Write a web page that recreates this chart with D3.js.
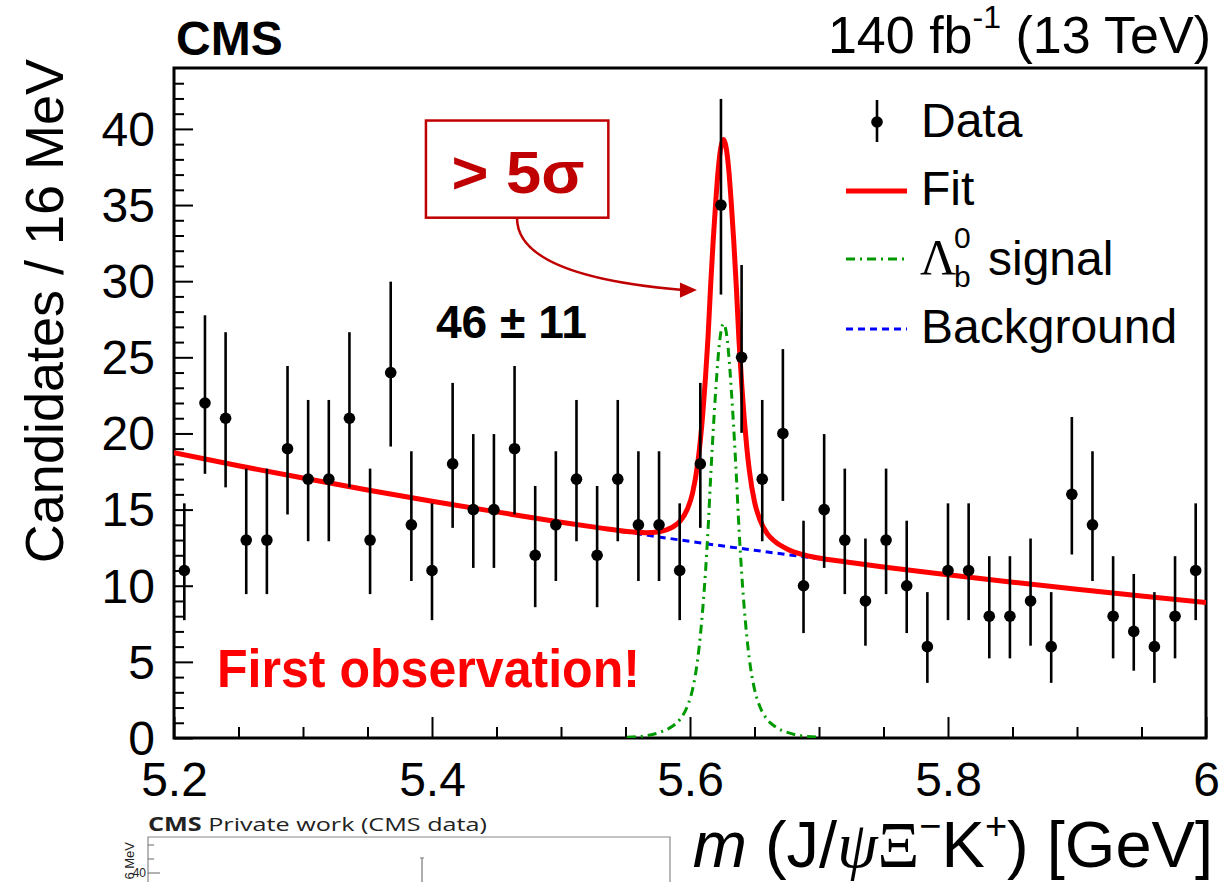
<!DOCTYPE html>
<html>
<head>
<meta charset="utf-8">
<script src="https://cdn.jsdelivr.net/npm/d3@7"></script>
<style>
  body { margin: 0; background: #fff; }
  svg { display: block; }
  text { font-family: "Liberation Sans", Arial, Helvetica, sans-serif; }
</style>
</head>
<body>
<div id="chart"></div>
<script>
// 16 MeV bins, centres in GeV
const binCenters = [5.208, 5.224, 5.240, 5.256, 5.272, 5.288, 5.304, 5.320, 5.336, 5.352,
  5.368, 5.384, 5.400, 5.416, 5.432, 5.448, 5.464, 5.480, 5.496, 5.512,
  5.528, 5.544, 5.560, 5.576, 5.592, 5.608, 5.624, 5.640, 5.656, 5.672,
  5.688, 5.704, 5.720, 5.736, 5.752, 5.768, 5.784, 5.800, 5.816, 5.832,
  5.848, 5.864, 5.880, 5.896, 5.912, 5.928, 5.944, 5.960, 5.976, 5.992];
const counts = [11, 22, 21, 13, 13, 19, 17, 17, 21, 13,
  24, 14, 11, 18, 15, 15, 19, 12, 14, 17,
  12, 17, 14, 14, 11, 18, 35, 25, 17, 20,
  10, 15, 13, 9, 13, 10, 6, 11, 11, 8,
  8, 9, 6, 16, 14, 8, 7, 6, 8, 11];
// asymmetric (Poisson) error bars
const errLow = [3.26, 4.65, 4.54, 3.55, 3.55, 4.32, 4.08, 4.08, 4.54, 3.55,
  4.86, 3.69, 3.26, 4.20, 3.83, 3.83, 4.32, 3.41, 3.69, 4.08,
  3.41, 4.08, 3.69, 3.69, 3.26, 4.20, 5.88, 4.96, 4.08, 4.43,
  3.11, 3.83, 3.55, 2.94, 3.55, 3.11, 2.38, 3.26, 3.26, 2.77,
  2.77, 2.94, 2.38, 3.95, 3.69, 2.77, 2.58, 2.38, 2.77, 3.26];
const errHigh = [4.41, 5.76, 5.65, 4.69, 4.69, 5.43, 5.20, 5.20, 5.65, 4.69,
  5.97, 4.83, 4.41, 5.32, 4.96, 4.96, 5.43, 4.55, 4.83, 5.20,
  4.55, 5.20, 4.83, 4.83, 4.41, 5.32, 6.97, 6.06, 5.20, 5.54,
  4.27, 4.96, 4.69, 4.10, 4.69, 4.27, 3.58, 4.41, 4.41, 3.94,
  3.94, 4.10, 3.58, 5.08, 4.83, 3.94, 3.77, 3.58, 3.94, 4.41];

// background component
const bkgX = [5.20, 5.25, 5.30, 5.35, 5.40, 5.45, 5.50, 5.55, 5.60, 5.65, 5.70, 5.75, 5.80, 5.85, 5.90, 5.95, 6.00];
const bkgY = [18.73, 17.88, 17.07, 16.29, 15.55, 14.85, 14.17, 13.53, 12.91, 12.33, 11.77, 11.23, 10.72, 10.23, 9.77, 9.33, 8.90];

// Lambda_b signal component
const sigX = [5.551, 5.566, 5.576, 5.586, 5.592, 5.598, 5.602, 5.606, 5.608, 5.610, 5.612, 5.614,
  5.616, 5.618, 5.620, 5.622, 5.624, 5.626, 5.628, 5.630, 5.632, 5.634, 5.636, 5.638,
  5.640, 5.642, 5.644, 5.646, 5.650, 5.654, 5.660, 5.666, 5.676, 5.686, 5.701];
const sigY = [0.05, 0.15, 0.35, 0.75, 1.2, 2.1, 3.2, 5.2, 6.7, 8.6, 10.9, 13.7,
  17.1, 20.2, 22.9, 25.2, 26.7, 27.2, 26.7, 25.2, 22.9, 20.2, 17.1, 13.7,
  10.9, 8.6, 6.7, 5.2, 3.2, 2.1, 1.2, 0.75, 0.35, 0.15, 0.05];

// total fit
const fitX = [5.20, 5.25, 5.30, 5.35, 5.40, 5.45, 5.50, 5.53,
  5.551, 5.566, 5.576, 5.586, 5.592, 5.598, 5.602, 5.606, 5.608, 5.610, 5.612, 5.614,
  5.616, 5.618, 5.620, 5.622, 5.624, 5.626, 5.628, 5.630, 5.632, 5.634, 5.636, 5.638,
  5.640, 5.642, 5.644, 5.646, 5.650, 5.654, 5.660, 5.666, 5.676, 5.686, 5.701,
  5.72, 5.75, 5.80, 5.85, 5.90, 5.95, 6.00];
const fitY = [18.73, 17.88, 17.07, 16.29, 15.55, 14.85, 14.17, 13.80,
  13.56, 13.48, 13.55, 13.83, 14.21, 15.04, 16.09, 18.04, 19.52, 21.39, 23.67, 26.35,
  29.72, 32.70, 35.27, 37.45, 38.83, 39.30, 38.78, 37.36, 35.13, 32.51, 29.48, 26.06,
  23.34, 21.01, 19.09, 17.57, 15.52, 14.37, 13.40, 12.89, 12.38, 12.07, 11.80,
  11.57, 11.23, 10.72, 10.23, 9.77, 9.33, 8.90];

const xMajor = [5.2, 5.4, 5.6, 5.8, 6.0];
const xTickLabels = ["5.2", "5.4", "5.6", "5.8", "6"];
const yMajor = [0, 5, 10, 15, 20, 25, 30, 35, 40];
const yTickLabels = ["0", "5", "10", "15", "20", "25", "30", "35", "40"];

const legendItems = ["Data", "Fit", "signal", "Background"];

/* ========== SETUP ========== */

const svg = d3.select("#chart").append("svg").attr("width", 1222).attr("height", 882);
const plot = { left: 174, top: 68, right: 1206, bottom: 738 };

const x = d3.scaleLinear().domain([5.2, 6.0]).range([plot.left, plot.right]);
const y = d3.scaleLinear().domain([0, 44]).range([plot.bottom, plot.top]);

svg.append("defs").append("clipPath").attr("id", "frame")
  .append("rect")
  .attr("x", plot.left).attr("y", plot.top)
  .attr("width", plot.right - plot.left).attr("height", plot.bottom - plot.top);

/* ========== AXES ========== */

const xMinor = d3.range(5.2, 6.0001, 0.05).filter((v) => !xMajor.some((m) => Math.abs(m - v) < 1e-6));
const yMinor = d3.range(0, 44, 1).filter((v) => v % 5 !== 0);

const gx = svg.append("g").attr("transform", `translate(0,${plot.bottom})`);
gx.call(d3.axisBottom(x).tickValues(xMajor).tickSize(-21).tickPadding(24)
  .tickFormat((d, i) => xTickLabels[i]));
gx.append("g").call(d3.axisBottom(x).tickValues(xMinor).tickSize(-11).tickFormat(""));

const gy = svg.append("g").attr("transform", `translate(${plot.left},0)`);
gy.call(d3.axisLeft(y).tickValues(yMajor).tickSize(-19).tickPadding(19)
  .tickFormat((d, i) => yTickLabels[i]));
gy.append("g").call(d3.axisLeft(y).tickValues(yMinor).tickSize(-10).tickFormat(""));

svg.selectAll(".domain").remove();
svg.selectAll(".tick line").attr("stroke", "#000").attr("stroke-width", 2);
svg.selectAll(".tick text")
  .attr("font-size", 48)
  .attr("fill", "#000")
  .style("font-family", '"Liberation Sans", Arial, sans-serif');
gy.selectAll(".tick text").attr("dy", "0.34em");

svg.append("rect")
  .attr("x", plot.left).attr("y", plot.top)
  .attr("width", plot.right - plot.left).attr("height", plot.bottom - plot.top)
  .attr("fill", "none").attr("stroke", "#000").attr("stroke-width", 3);

/* ========== CURVES ========== */

const curves = svg.append("g").attr("clip-path", "url(#frame)");
const line = d3.line().x((d) => x(d[0])).y((d) => y(d[1])).curve(d3.curveMonotoneX);

curves.append("path")
  .attr("d", line(d3.zip(bkgX, bkgY)))
  .attr("fill", "none").attr("stroke", "#0000ff").attr("stroke-width", 3)
  .attr("stroke-dasharray", "7,5");

curves.append("path")
  .attr("d", line(d3.zip(sigX, sigY)))
  .attr("fill", "none").attr("stroke", "#009a00").attr("stroke-width", 3)
  .attr("stroke-dasharray", "9,5,2,5");

curves.append("path")
  .attr("d", line(d3.zip(fitX, fitY)))
  .attr("fill", "none").attr("stroke", "#ff0000").attr("stroke-width", 5)
  .attr("stroke-linejoin", "round");

/* ========== DATA POINTS ========== */

const pts = binCenters.map((c, i) => ({ c, n: counts[i], lo: errLow[i], hi: errHigh[i] }));
const gd = svg.append("g");
gd.selectAll("line")
  .data(pts)
  .enter()
  .append("line")
  .attr("x1", (d) => x(d.c)).attr("x2", (d) => x(d.c))
  .attr("y1", (d) => y(d.n - d.lo)).attr("y2", (d) => y(d.n + d.hi))
  .attr("stroke", "#000").attr("stroke-width", 2.6);
gd.selectAll("circle")
  .data(pts)
  .enter()
  .append("circle")
  .attr("cx", (d) => x(d.c)).attr("cy", (d) => y(d.n))
  .attr("r", 5.8).attr("fill", "#000");

/* ========== LEGEND ========== */

const lg = svg.append("g");
lg.append("line").attr("x1", 877).attr("x2", 877).attr("y1", 100).attr("y2", 142)
  .attr("stroke", "#000").attr("stroke-width", 2.6);
lg.append("circle").attr("cx", 877).attr("cy", 122).attr("r", 5.8).attr("fill", "#000");
lg.append("line").attr("x1", 846).attr("x2", 907).attr("y1", 191).attr("y2", 191)
  .attr("stroke", "#ff0000").attr("stroke-width", 5);
lg.append("line").attr("x1", 846).attr("x2", 907).attr("y1", 259).attr("y2", 259)
  .attr("stroke", "#009a00").attr("stroke-width", 3).attr("stroke-dasharray", "9,5,2,5");
lg.append("line").attr("x1", 846).attr("x2", 907).attr("y1", 329).attr("y2", 329)
  .attr("stroke", "#0000ff").attr("stroke-width", 3).attr("stroke-dasharray", "7,5");

lg.append("text").attr("x", 921).attr("y", 137).attr("font-size", 48).text(legendItems[0]);
lg.append("text").attr("x", 921).attr("y", 205).attr("font-size", 48).text(legendItems[1]);
lg.append("text").attr("x", 920).attr("y", 274).attr("font-size", 50)
  .style("font-family", '"Liberation Serif", "DejaVu Serif", serif').text("Λ");
lg.append("text").attr("x", 954).attr("y", 248).attr("font-size", 30).text("0");
lg.append("text").attr("x", 954).attr("y", 287).attr("font-size", 30).text("b");
lg.append("text").attr("x", 988).attr("y", 275).attr("font-size", 48).text(legendItems[2]);
lg.append("text").attr("x", 921).attr("y", 343).attr("font-size", 48).text(legendItems[3]);

/* ========== TITLES ========== */

svg.append("text").attr("x", 176).attr("y", 55).attr("font-size", 48)
  .attr("font-weight", "bold").text("CMS");

const lumi = svg.append("text").attr("x", 1211).attr("y", 53).attr("font-size", 52)
  .attr("text-anchor", "end");
lumi.append("tspan").text("140 fb");
lumi.append("tspan").attr("dy", -25).attr("font-size", 32).text("-1");
lumi.append("tspan").attr("dy", 25).text(" (13 TeV)");

svg.append("text")
  .attr("transform", "translate(63,311) rotate(-90)")
  .attr("text-anchor", "middle").attr("font-size", 54)
  .text("Candidates / 16 MeV");

const xt = svg.append("text").attr("x", 1213).attr("y", 867).attr("font-size", 65)
  .attr("text-anchor", "end");
xt.append("tspan").attr("font-style", "italic").text("m");
xt.append("tspan").text(" (J/");
xt.append("tspan").attr("font-style", "italic")
  .style("font-family", '"Liberation Serif", "DejaVu Serif", serif').text("ψ");
xt.append("tspan").style("font-family", '"Liberation Serif", "DejaVu Serif", serif').text("Ξ");
xt.append("tspan").attr("dy", -28).attr("font-size", 38).text("−");
xt.append("tspan").attr("dy", 28).text("K");
xt.append("tspan").attr("dy", -28).attr("font-size", 38).text("+");
xt.append("tspan").attr("dy", 28).text(") [GeV]");

/* ========== ANNOTATIONS (data units) ========== */

const DARK = "#c00000";
const ann = svg.append("g").style("font-family", '"Open Sans", Lato, sans-serif').attr("font-weight", "bold");

ann.append("rect")
  .attr("x", x(5.3953)).attr("y", y(40.55))
  .attr("width", x(5.5367) - x(5.3953)).attr("height", y(34.17) - y(40.55))
  .attr("fill", "#fff").attr("stroke", DARK).attr("stroke-width", 2.5);
ann.append("text")
  .attr("x", x(5.4667)).attr("y", y(35.8)).attr("text-anchor", "middle")
  .attr("font-size", 60).attr("fill", DARK)
  .attr("textLength", 133).attr("lengthAdjust", "spacingAndGlyphs")
  .text("> 5σ");

const arrowPath = d3.path();
arrowPath.moveTo(x(5.4659), y(34.15));
arrowPath.bezierCurveTo(x(5.4659), y(31.06), x(5.5302), y(29.88), x(5.5946), y(29.42));
ann.append("path").attr("d", arrowPath.toString())
  .attr("fill", "none").attr("stroke", DARK).attr("stroke-width", 2.5);
ann.append("path")
  .attr("d", `M${x(5.6054)},${y(29.42)} L${x(5.5922)},${y(29.92)} L${x(5.5922)},${y(28.92)} Z`)
  .attr("fill", DARK);

ann.append("text")
  .attr("x", x(5.4616)).attr("y", y(26.27)).attr("text-anchor", "middle")
  .attr("font-size", 46).attr("fill", "#000")
  .attr("textLength", 151).attr("lengthAdjust", "spacingAndGlyphs")
  .text("46 ± 11");

ann.append("text")
  .attr("x", x(5.2333)).attr("y", y(3.35))
  .attr("font-size", 53).attr("fill", "#ff0000")
  .attr("textLength", 423).attr("lengthAdjust", "spacingAndGlyphs")
  .text("First observation!");

/* ========== CROPPED INSET BELOW (other figure) ========== */

svg.append("defs").append("clipPath").attr("id", "inset")
  .append("rect").attr("x", 0).attr("y", 808).attr("width", 680).attr("height", 74);
const inset = svg.append("g").attr("clip-path", "url(#inset)");
inset.append("path").attr("d", "M148,882 V837 H670 V882")
  .attr("fill", "none").attr("stroke", "#888").attr("stroke-width", 1.2);
inset.append("text").attr("x", 148).attr("y", 831).attr("font-size", 19).attr("fill", "#222")
  .style("font-family", '"Open Sans", Lato, sans-serif')
  .attr("textLength", 339).attr("lengthAdjust", "spacingAndGlyphs")
  .call((t) => {
    t.append("tspan").attr("font-weight", "bold").text("CMS");
    t.append("tspan").text(" Private work (CMS data)");
  });
inset.append("text").attr("transform", "translate(134,842) rotate(-90)")
  .attr("text-anchor", "end").attr("font-size", 13).attr("fill", "#222")
  .text("6 MeV");
inset.append("text").attr("x", 146).attr("y", 877).attr("text-anchor", "end")
  .attr("font-size", 12).attr("fill", "#222").text("40");
[[845, 6], [859, 6], [873, 12]].forEach(([ty, len]) => {
  inset.append("line").attr("x1", 148).attr("x2", 148 + len).attr("y1", ty).attr("y2", ty)
    .attr("stroke", "#666").attr("stroke-width", 1);
});
inset.append("line").attr("x1", 422).attr("x2", 422).attr("y1", 858).attr("y2", 882)
  .attr("stroke", "#777").attr("stroke-width", 1.2);
inset.append("line").attr("x1", 420).attr("x2", 424).attr("y1", 858).attr("y2", 858)
  .attr("stroke", "#777").attr("stroke-width", 1);
</script>
</body>
</html>
